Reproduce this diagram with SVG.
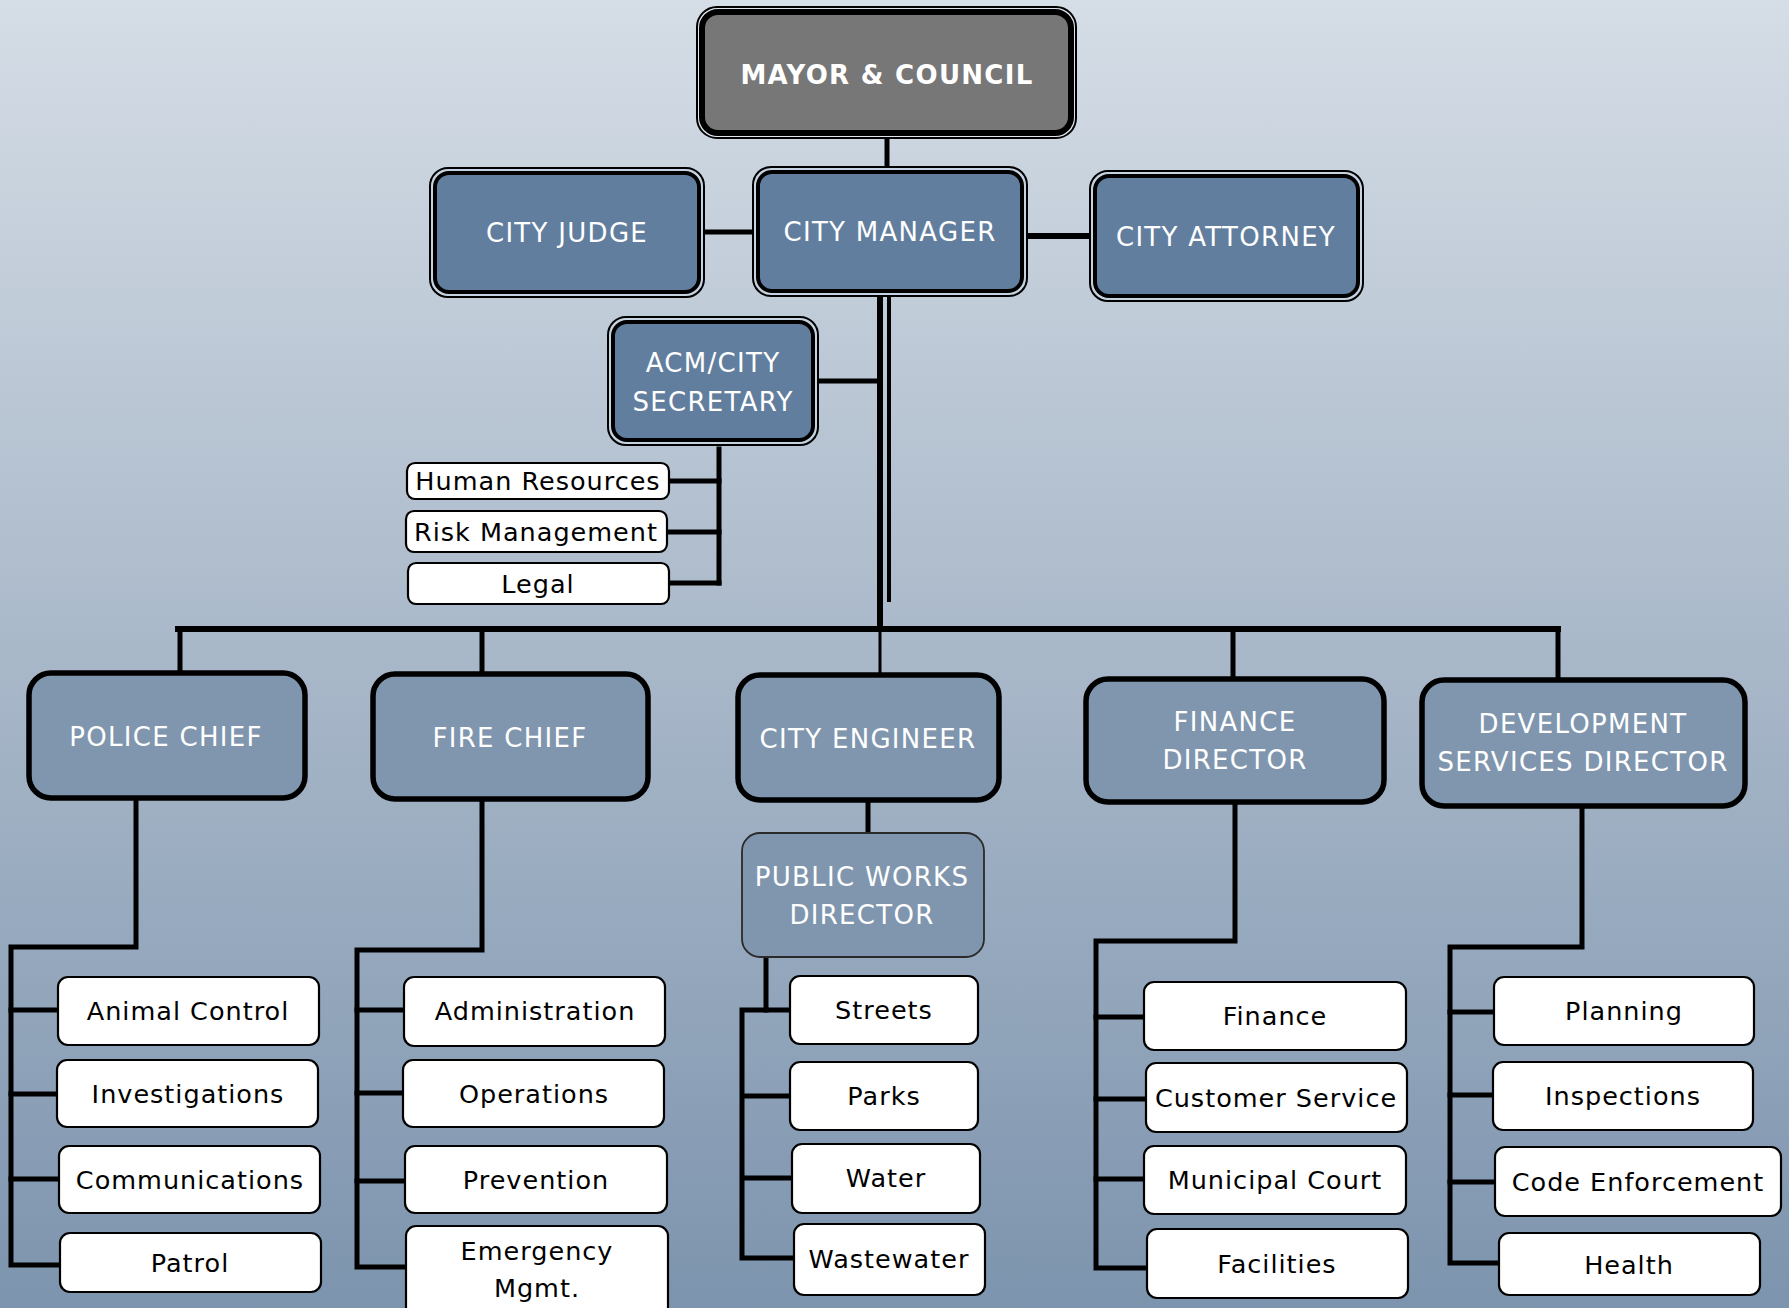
<svg xmlns="http://www.w3.org/2000/svg" width="1789" height="1308" viewBox="0 0 1789 1308">
<defs>
<linearGradient id="bg" x1="0" y1="0" x2="0" y2="1">
<stop offset="0" stop-color="#d5dde6"/>
<stop offset="0.5" stop-color="#a9b8c9"/>
<stop offset="1" stop-color="#7d94ae"/>
</linearGradient>
</defs>
<style>
.cn{fill:none;stroke:#000;stroke-width:5;stroke-linecap:square;stroke-linejoin:miter}
.outer{fill:#c5d2df;stroke:#000;stroke-width:2}
.inner{fill:#627e9e;stroke:#000;stroke-width:4}
.head{fill:#7f96ae;stroke:#000;stroke-width:5.5}
.pw{fill:#7f96ae;stroke:#2a2a2a;stroke-width:1.8}
.wb{fill:#fff;stroke:#000;stroke-width:2.2}
.ht{font-family:"DejaVu Sans",Verdana,sans-serif;font-size:26px;fill:#fff;text-anchor:middle;letter-spacing:1.3px}
.mt{font-family:"DejaVu Sans",Verdana,sans-serif;font-size:26px;font-weight:bold;fill:#fff;text-anchor:middle;letter-spacing:1.3px}
.wt{font-family:"DejaVu Sans",Verdana,sans-serif;font-size:25.5px;fill:#000;text-anchor:middle;letter-spacing:1px}
</style>
<rect x="0" y="0" width="1789" height="1308" fill="url(#bg)"/>

<g id="connectors">
<path class="cn" d="M887 138 V167"/>
<path class="cn" d="M704 232 H753"/>
<path class="cn" d="M1027 236 H1090" style="stroke-width:6"/>
<path class="cn" d="M880 296 V632" style="stroke-width:6;stroke-linecap:butt"/>
<path class="cn" d="M880 629 V673" style="stroke-width:3;stroke-linecap:butt"/>
<path class="cn" d="M889 296 V602" style="stroke-width:4;stroke-linecap:butt"/>
<path class="cn" d="M818 381 H880"/>
<path class="cn" d="M719 449 V583"/>
<path class="cn" d="M669 481 H719 M667 532 H719 M669 583 H719"/>
<path class="cn" d="M178 629 H1558" style="stroke-width:6"/>
<path class="cn" d="M180 629 V671 M482 629 V672 M1233 629 V677 M1558 629 V678"/>
<path class="cn" d="M868 802 V833"/>
<path class="cn" d="M136 800 V947 H11 V1265 H60"/>
<path class="cn" d="M11 1010 H58 M11 1094 H57 M11 1179 H59"/>
<path class="cn" d="M482 801 V950 H357 V1267 H406"/>
<path class="cn" d="M357 1010 H404 M357 1093 H403 M357 1181 H405"/>
<path class="cn" d="M766 957 V1010 H790"/>
<path class="cn" d="M742 1010 V1258 H794 M742 1010 H766 M742 1096 H790 M742 1178 H792"/>
<path class="cn" d="M1235 804 V941 H1096 V1268 H1147"/>
<path class="cn" d="M1096 1017 H1144 M1096 1099 H1146 M1096 1179 H1144"/>
<path class="cn" d="M1582 808 V947 H1450 V1263 H1499"/>
<path class="cn" d="M1450 1012 H1494 M1450 1095 H1493 M1450 1182 H1495"/>
</g>

<g id="mayor">
<rect x="697" y="7" width="379" height="131" rx="20" fill="#dfe5ec" stroke="#000" stroke-width="2"/>
<rect x="702" y="12" width="369" height="121" rx="16" fill="#777" stroke="#000" stroke-width="6"/>
<text class="mt" x="887" y="84">MAYOR &amp; COUNCIL</text>
</g>
<g id="judge">
<rect class="outer" x="430" y="168" width="274" height="129" rx="18"/>
<rect class="inner" x="435" y="173" width="264" height="119" rx="14"/>
<text class="ht" x="567" y="242">CITY JUDGE</text>
</g>
<g id="manager">
<rect class="outer" x="753" y="167" width="274" height="129" rx="18"/>
<rect class="inner" x="758" y="172" width="264" height="119" rx="14"/>
<text class="ht" x="890" y="241">CITY MANAGER</text>
</g>
<g id="attorney">
<rect class="outer" x="1090" y="171" width="273" height="130" rx="18"/>
<rect class="inner" x="1095" y="176" width="263" height="120" rx="14"/>
<text class="ht" x="1226" y="246">CITY ATTORNEY</text>
</g>
<g id="acm">
<rect class="outer" x="608" y="317" width="210" height="128" rx="18"/>
<rect class="inner" x="613" y="322" width="200" height="118" rx="14"/>
<text class="ht" x="713" y="372">ACM/CITY</text>
<text class="ht" x="713" y="411">SECRETARY</text>
</g>
<g id="hr">
<rect class="wb" x="407" y="463" width="262" height="36" rx="8"/>
<text class="wt" x="538" y="490">Human Resources</text>
</g>
<g id="risk">
<rect class="wb" x="406" y="511" width="261" height="41" rx="8"/>
<text class="wt" x="536" y="541">Risk Management</text>
</g>
<g id="legal">
<rect class="wb" x="408" y="563" width="261" height="41" rx="8"/>
<text class="wt" x="538" y="593">Legal</text>
</g>

<g id="police">
<rect class="head" x="29" y="673" width="276" height="125" rx="22"/>
<text class="ht" x="166" y="746">POLICE CHIEF</text>
</g>
<g id="fire">
<rect class="head" x="373" y="674" width="275" height="125" rx="22"/>
<text class="ht" x="510" y="747">FIRE CHIEF</text>
</g>
<g id="engineer">
<rect class="head" x="738" y="675" width="261" height="125" rx="22"/>
<text class="ht" x="868" y="748">CITY ENGINEER</text>
</g>
<g id="publicworks">
<rect class="pw" x="742" y="833" width="242" height="124" rx="18"/>
<text class="ht" x="862" y="886">PUBLIC WORKS</text>
<text class="ht" x="862" y="924">DIRECTOR</text>
</g>
<g id="findirector">
<rect class="head" x="1086" y="679" width="298" height="123" rx="22"/>
<text class="ht" x="1235" y="731">FINANCE</text>
<text class="ht" x="1235" y="769">DIRECTOR</text>
</g>
<g id="devdirector">
<rect class="head" x="1422" y="680" width="323" height="126" rx="22"/>
<text class="ht" x="1583" y="733">DEVELOPMENT</text>
<text class="ht" x="1583" y="771">SERVICES DIRECTOR</text>
</g>

<g id="animal"><rect class="wb" x="58" y="977" width="261" height="68" rx="10"/><text class="wt" x="188" y="1020">Animal Control</text></g>
<g id="investigations"><rect class="wb" x="57" y="1060" width="261" height="67" rx="10"/><text class="wt" x="188" y="1103">Investigations</text></g>
<g id="communications"><rect class="wb" x="59" y="1146" width="261" height="67" rx="10"/><text class="wt" x="190" y="1189">Communications</text></g>
<g id="patrol"><rect class="wb" x="60" y="1233" width="261" height="59" rx="10"/><text class="wt" x="190" y="1272">Patrol</text></g>

<g id="administration"><rect class="wb" x="404" y="977" width="261" height="69" rx="10"/><text class="wt" x="535" y="1020">Administration</text></g>
<g id="operations"><rect class="wb" x="403" y="1060" width="261" height="67" rx="10"/><text class="wt" x="534" y="1103">Operations</text></g>
<g id="prevention"><rect class="wb" x="405" y="1146" width="262" height="67" rx="10"/><text class="wt" x="536" y="1189">Prevention</text></g>
<g id="emergency"><rect class="wb" x="406" y="1226" width="262" height="92" rx="10"/><text class="wt" x="537" y="1260">Emergency</text><text class="wt" x="537" y="1297">Mgmt.</text></g>

<g id="streets"><rect class="wb" x="790" y="976" width="188" height="68" rx="10"/><text class="wt" x="884" y="1019">Streets</text></g>
<g id="parks"><rect class="wb" x="790" y="1062" width="188" height="68" rx="10"/><text class="wt" x="884" y="1105">Parks</text></g>
<g id="water"><rect class="wb" x="792" y="1144" width="188" height="69" rx="10"/><text class="wt" x="886" y="1187">Water</text></g>
<g id="wastewater"><rect class="wb" x="794" y="1224" width="191" height="71" rx="10"/><text class="wt" x="889" y="1268">Wastewater</text></g>

<g id="finance"><rect class="wb" x="1144" y="982" width="262" height="68" rx="10"/><text class="wt" x="1275" y="1025">Finance</text></g>
<g id="customer"><rect class="wb" x="1146" y="1063" width="261" height="69" rx="10"/><text class="wt" x="1276" y="1107">Customer Service</text></g>
<g id="court"><rect class="wb" x="1144" y="1146" width="262" height="68" rx="10"/><text class="wt" x="1275" y="1189">Municipal Court</text></g>
<g id="facilities"><rect class="wb" x="1147" y="1229" width="261" height="69" rx="10"/><text class="wt" x="1277" y="1273">Facilities</text></g>

<g id="planning"><rect class="wb" x="1494" y="977" width="260" height="68" rx="10"/><text class="wt" x="1624" y="1020">Planning</text></g>
<g id="inspections"><rect class="wb" x="1493" y="1062" width="260" height="68" rx="10"/><text class="wt" x="1623" y="1105">Inspections</text></g>
<g id="code"><rect class="wb" x="1495" y="1147" width="286" height="69" rx="10"/><text class="wt" x="1638" y="1191">Code Enforcement</text></g>
<g id="health"><rect class="wb" x="1499" y="1233" width="261" height="62" rx="10"/><text class="wt" x="1629" y="1274">Health</text></g>
</svg>
